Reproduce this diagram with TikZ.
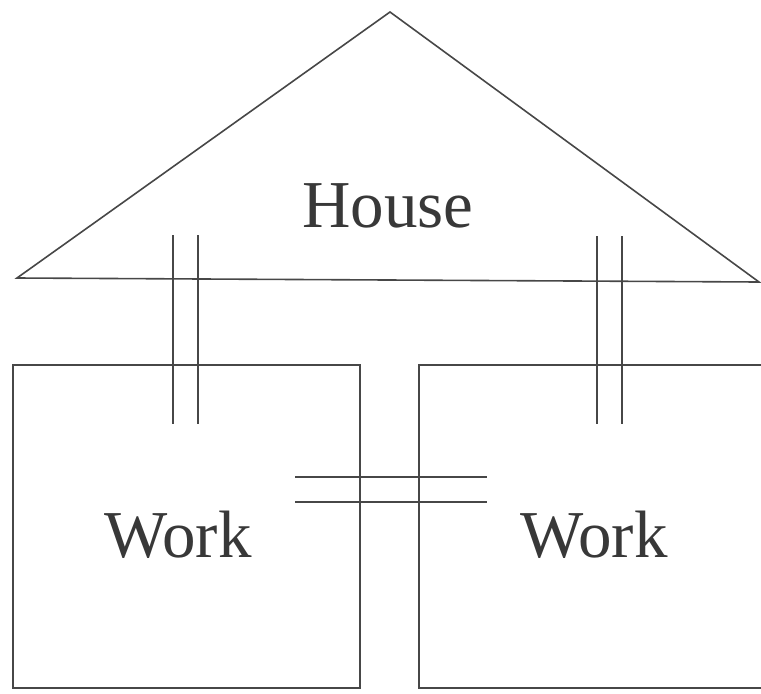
\documentclass[tikz,border=0pt]{standalone}
\usepackage{fontspec}
\setmainfont{Liberation Serif}
\definecolor{ink}{gray}{0.28}
\definecolor{txt}{gray}{0.22}
\begin{document}
\begin{tikzpicture}[x=1pt,y=-1pt,
  outline/.style={draw=ink,line width=1.6pt,line join=miter},
  bar/.style={draw=ink,line width=1.6pt},
  lbl/.style={anchor=base,inner sep=0pt,text=txt,font=\fontsize{67}{67}\selectfont}]
\useasboundingbox (0,0) rectangle (761,694);
% roof
\draw[outline] (17,278) -- (390,12) -- (759,282) -- cycle;
% work boxes
\draw[outline] (13,365) rectangle (360,688);
\draw[outline] (763,365) -- (419,365) -- (419,688) -- (763,688);
% double bars
\draw[bar] (173,235) -- (173,424);
\draw[bar] (198,235) -- (198,424);
\draw[bar] (597,236) -- (597,424);
\draw[bar] (622,236) -- (622,424);
\draw[bar] (295,477) -- (487,477);
\draw[bar] (295,502) -- (487,502);
% labels
\node[lbl] (house) at (388,227) {House};
\node[lbl] (workl) at (178,557) {Work};
\node[lbl] (workr) at (594,557) {Work};
\end{tikzpicture}
\end{document}
